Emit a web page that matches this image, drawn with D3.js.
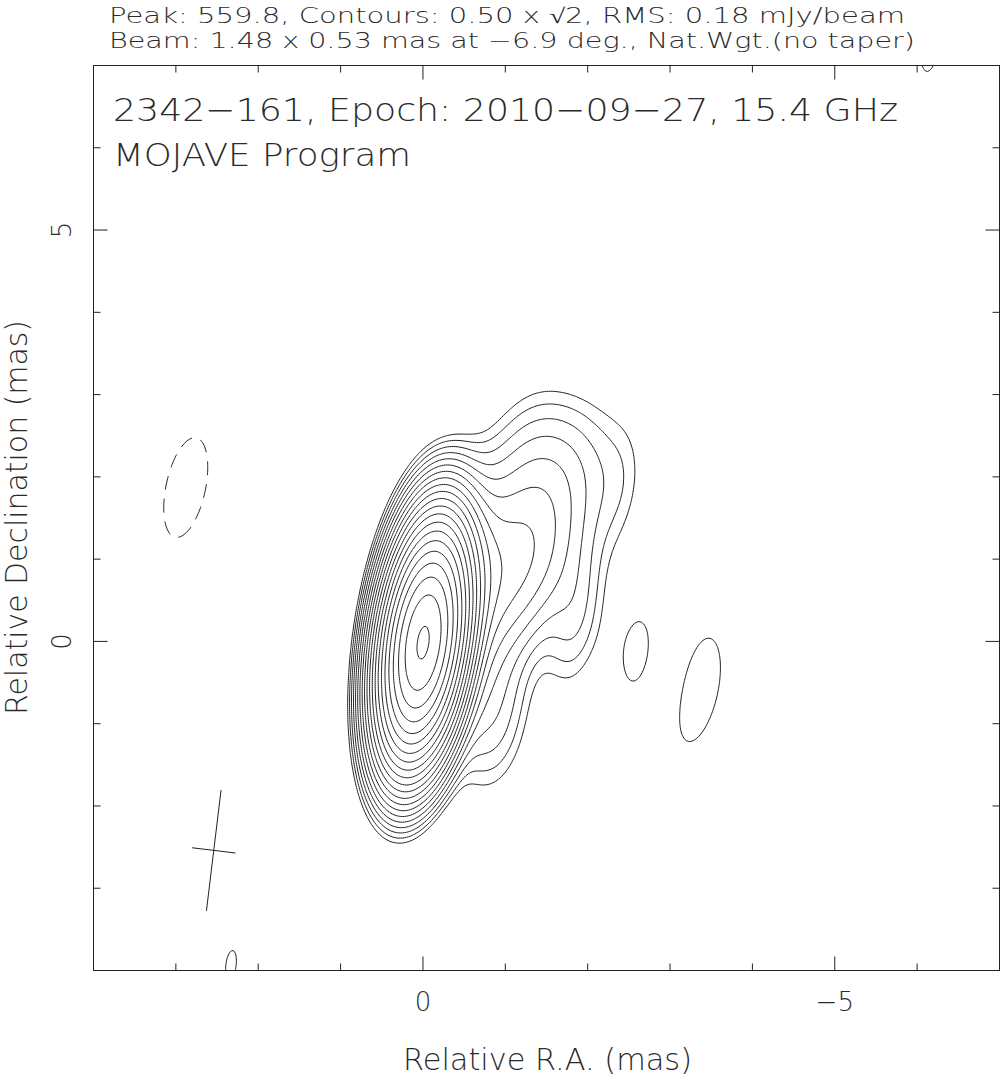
<!DOCTYPE html>
<html>
<head>
<meta charset="utf-8">
<script src="https://cdn.jsdelivr.net/npm/d3@7"></script>
<style>
  body { margin: 0; background: #fff; }
  text { font-family: "DejaVu Sans"; font-weight: 200; fill: #2a2a2a; }
</style>
</head>
<body>
<script>
// image parameters
var peakFlux = 559.8;
var baseLevel = 0.5;
var nLevels = 21;
var beamMajor = 1.48, beamMinor = 0.53, beamPA = -6.9;
var beamPos = [2.54, -2.54];

// model components (before beam): RA offset, Dec offset (mas), flux (mJy), FWHM major/minor (mas), PA (deg)
var compX    = [0.0,   -0.35, -1.1, -1.55, -1.25, -2.4, -1.85, -0.8, -2.62, -3.31, -2.95,  2.88,  2.33,  -6.15];
var compY    = [-0.02,  0.7,   0.9,  2.02,  2.4,   1.8,  0.3,  -0.8, -0.13, -0.6,  -0.42,  1.87, -3.93,   7.2];
var compFlux = [570,   12,     8,    3.2,   0.4,   0.35, 0.9,   2.0,  0.74,  1.35, -0.3,  -1.0,   0.52,   0.55];
var compMaj  = [0.45,   0.5,   1.0,  1.2,   0.6,   0.0,  0.0,   0.6,  0.35,  1.3,   0.0,   0.8,   0.0,    0.0];
var compMin  = [0.1,    0.5,   0.4,  0.3,   0.3,   0.0,  0.0,   0.4,  0.05,  0.5,   0.0,   0.25,  0.0,    0.0];
var compPA   = [-15,    0,   -60,  -80,   -80,     0,    0,    40,   90,   -20,     0,   -30,    0,      0];

var xDomain = [4, -7], yDomain = [-4, 7];
var xMinor = d3.range(-7, 5), yMinor = d3.range(-4, 8);
var xLabels = [0, -5], yLabels = [0, 5];

var titleLines = ["Peak: 559.8, Contours: 0.50 x \u221A2, RMS: 0.18 mJy/beam",
                  "Beam: 1.48 x 0.53 mas at \u22126.9 deg., Nat.Wgt.(no taper)"];
var insideLines = ["2342\u2212161, Epoch: 2010\u221209\u221227, 15.4 GHz", "MOJAVE Program"];

var W = 1001, H = 1079;
var L = 93.5, R = 999.5, T = 65.5, B = 970.5;

var svg = d3.select("body").append("svg").attr("width", W).attr("height", H);

var x = d3.scaleLinear().domain(xDomain).range([L, R]);
var y = d3.scaleLinear().domain(yDomain).range([B, T]);

// covariance of an elliptical gaussian, [xx, xy, yy]
function cov(maj, min, pa) {
  var sa = maj / 2.3548, sb = min / 2.3548, t = pa * Math.PI / 180;
  var ux = Math.sin(t), uy = Math.cos(t), vx = Math.cos(t), vy = -Math.sin(t);
  return [sa*sa*ux*ux + sb*sb*vx*vx, sa*sa*ux*uy + sb*sb*vx*vy, sa*sa*uy*uy + sb*sb*vy*vy];
}

// convolve every component with the beam
var bc = cov(beamMajor, beamMinor, beamPA);
var detB = bc[0]*bc[2] - bc[1]*bc[1];
var comps = compX.map(function(cx, k) {
  var c = cov(compMaj[k], compMin[k], compPA[k]);
  var a = bc[0] + c[0], b = bc[1] + c[1], d = bc[2] + c[2];
  var det = a*d - b*b;
  return {x: cx, y: compY[k], amp: compFlux[k] * Math.sqrt(detB / det), ia: d/det, ib: -b/det, id: a/det};
});

// grid (a bit bigger than the frame, clipped later)
var step = 0.025, gx0 = 4.5, gy0 = 7.5, nx = 481, ny = 481;
var vals = new Float64Array(nx * ny);
for (var j = 0; j < ny; j++) {
  var py = gy0 - j * step;
  for (var i = 0; i < nx; i++) {
    var px = gx0 - i * step, v = 0;
    for (var k = 0; k < comps.length; k++) {
      var c = comps[k], dx = px - c.x, dy = py - c.y;
      v += c.amp * Math.exp(-0.5 * (c.ia*dx*dx + 2*c.ib*dx*dy + c.id*dy*dy));
    }
    vals[j * nx + i] = v;
  }
}

var levels = d3.range(nLevels).map(function(n) { return baseLevel * Math.pow(Math.SQRT2, n); });

var gridToPx = d3.geoTransform({
  point: function(gx, gy) {
    this.stream.point(x(gx0 - (gx - 0.5) * step), y(gy0 - (gy - 0.5) * step));
  }
});
var path = d3.geoPath(gridToPx);

svg.append("clipPath").attr("id", "frame")
  .append("rect").attr("x", L).attr("y", T).attr("width", R - L).attr("height", B - T);

var plot = svg.append("g").attr("clip-path", "url(#frame)");

var pos = d3.contours().size([nx, ny]).thresholds(levels)(vals);
plot.selectAll(".pos").data(pos).join("path")
  .attr("class", "pos")
  .attr("d", path)
  .attr("fill", "none").attr("stroke", "#222").attr("stroke-width", 1);

var negVals = vals.map(function(v) { return -v; });
var neg = d3.contours().size([nx, ny]).thresholds([baseLevel])(negVals);
plot.selectAll(".neg").data(neg).join("path")
  .attr("class", "neg")
  .attr("d", path)
  .attr("fill", "none").attr("stroke", "#222").attr("stroke-width", 1)
  .attr("stroke-dasharray", "14,9");

// beam cross
var t = beamPA * Math.PI / 180;
var ax = [Math.sin(t), Math.cos(t)], bx = [Math.cos(t), -Math.sin(t)];
[[ax, beamMajor], [bx, beamMinor]].forEach(function(e) {
  var u = e[0], h = e[1] / 2;
  svg.append("line")
    .attr("x1", x(beamPos[0] + u[0]*h)).attr("y1", y(beamPos[1] + u[1]*h))
    .attr("x2", x(beamPos[0] - u[0]*h)).attr("y2", y(beamPos[1] - u[1]*h))
    .attr("stroke", "#222").attr("stroke-width", 1);
});

// frame and ticks
svg.append("rect").attr("x", L).attr("y", T).attr("width", R - L).attr("height", B - T)
  .attr("fill", "none").attr("stroke", "#222").attr("stroke-width", 1);

var ticks = svg.append("g").attr("stroke", "#222").attr("stroke-width", 1);
xMinor.forEach(function(d) {
  var len = d % 5 == 0 ? 14 : 7;
  ticks.append("line").attr("x1", x(d)).attr("x2", x(d)).attr("y1", B).attr("y2", B - len);
  ticks.append("line").attr("x1", x(d)).attr("x2", x(d)).attr("y1", T).attr("y2", T + len);
});
yMinor.forEach(function(d) {
  var len = d % 5 == 0 ? 14 : 7;
  ticks.append("line").attr("y1", y(d)).attr("y2", y(d)).attr("x1", L).attr("x2", L + len);
  ticks.append("line").attr("y1", y(d)).attr("y2", y(d)).attr("x1", R).attr("x2", R - len);
});

xLabels.forEach(function(d) {
  svg.append("text").attr("x", x(d)).attr("y", 1011).attr("text-anchor", "middle")
    .style("font-size", "26px").text(d < 0 ? "\u2212" + (-d) : d);
});
yLabels.forEach(function(d) {
  svg.append("text").attr("transform", "translate(71," + y(d) + ") rotate(-90)")
    .attr("text-anchor", "middle").style("font-size", "26px").text(d);
});

function label(txt, x0, yb, size, width) {
  svg.append("text").attr("x", x0).attr("y", yb).style("font-size", size + "px")
    .attr("textLength", width).attr("lengthAdjust", "spacingAndGlyphs").text(txt);
}
label(titleLines[0], 109, 23, 21, 796);
label(titleLines[1], 109, 48, 21, 806);
label(insideLines[0], 113, 121, 32, 785);
label(insideLines[1], 113, 166, 32, 298);

svg.append("text").attr("x", 403).attr("y", 1070).style("font-size", "30px")
  .attr("textLength", 289).attr("lengthAdjust", "spacingAndGlyphs").text("Relative R.A. (mas)");
svg.append("text").attr("transform", "translate(27,715) rotate(-90)").style("font-size", "30px")
  .attr("textLength", 395).attr("lengthAdjust", "spacingAndGlyphs").text("Relative Declination (mas)");
</script>
</body>
</html>
